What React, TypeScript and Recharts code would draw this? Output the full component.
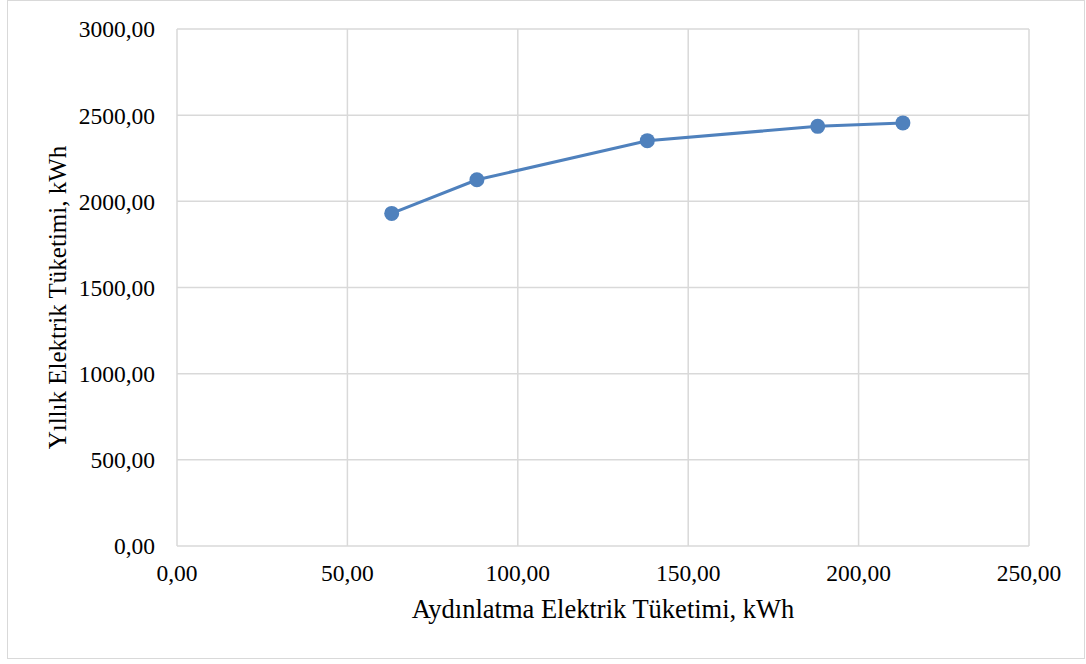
import { LineChart, Line, XAxis, YAxis, CartesianGrid } from 'recharts';

const aydinlatma = [63, 88, 138, 188, 213];
const yillik = [1930, 2125, 2352, 2435, 2455];
const xTicks = [0, 50, 100, 150, 200, 250];
const yTicks = [0, 500, 1000, 1500, 2000, 2500, 3000];

const data = aydinlatma.map((x, i) => ({ x, y: yillik[i] }));

const fmt = (v: number) => v.toFixed(2).replace('.', ',');
const FONT = '"Liberation Serif", "Times New Roman", serif';
const tickStyle = { fill: '#000', fontSize: 23.5, fontFamily: FONT };

export default function App() {
  return (
    <div style={{ position: 'fixed', left: 0, top: 0, width: 1086, height: 664, background: '#fff' }}>
      {/* chart area border */}
      <div style={{ position: 'absolute', left: 7, top: 0, width: 1078, height: 659, border: '1px solid #d9d9d9', boxSizing: 'border-box' }} />
      <LineChart
        width={1086}
        height={664}
        data={data}
        margin={{ top: 29, right: 57, bottom: 0, left: 0 }}
        style={{ fontFamily: FONT }}
      >
        <CartesianGrid stroke="#d9d9d9" strokeWidth={1.5} />
        <XAxis
          type="number"
          dataKey="x"
          domain={[0, 250]}
          ticks={xTicks}
          tickFormatter={fmt}
          axisLine={false}
          tickLine={false}
          tickSize={0}
          tick={tickStyle}
          tickMargin={18}
          height={118}
          interval={0}
          label={{ value: 'Aydınlatma Elektrik Tüketimi, kWh', position: 'insideBottom', offset: 46, fill: '#000', fontSize: 26.5, fontFamily: FONT }}
        />
        <YAxis
          type="number"
          domain={[0, 3000]}
          ticks={yTicks}
          tickFormatter={fmt}
          axisLine={false}
          tickLine={false}
          tickSize={0}
          tick={tickStyle}
          tickMargin={22}
          width={177}
          interval={0}
          label={{ value: 'Yıllık Elektrik Tüketimi, kWh', angle: -90, position: 'center', dx: -31, dy: 10, fill: '#000', fontSize: 25, fontFamily: FONT }}
        />
        <Line
          type="linear"
          dataKey="y"
          stroke="#4f81bd"
          strokeWidth={3}
          dot={{ r: 7.5, fill: '#4f81bd', stroke: '#4f81bd', strokeWidth: 0 }}
          isAnimationActive={false}
        />
      </LineChart>
    </div>
  );
}
